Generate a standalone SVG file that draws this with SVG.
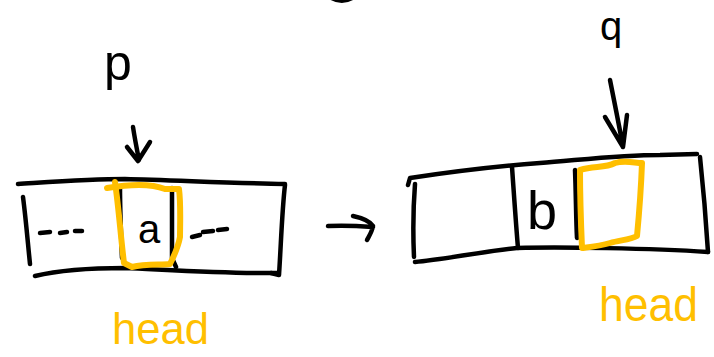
<svg xmlns="http://www.w3.org/2000/svg" width="714" height="357" viewBox="0 0 714 357">
<style>
.ink{fill:none;stroke:#000;stroke-width:4.5;stroke-linecap:round;stroke-linejoin:round}
.hl{fill:none;stroke:#FFBF00;stroke-width:6;stroke-linecap:round;stroke-linejoin:round}
.t{font-family:"Liberation Sans","DejaVu Sans",sans-serif;fill:#000}
.y{font-family:"Liberation Sans","DejaVu Sans",sans-serif;fill:#FFBF00}
</style>
<rect width="714" height="357" fill="#fff"/>
<path class="ink" d="M330,-3 Q341,4 352,-2"/>
<g id="left-array">
  <path class="ink" d="M18,184 C50,182 90,179 125,179 C170,180 230,183 285,184"/>
  <path class="ink" d="M285,185 C282,210 281,245 279,275 L271,273"/>
  <path class="ink" d="M35,276 C60,270 95,268 125,268 C170,270 230,274 277,273"/>
  <path class="ink" d="M23,197 C26,220 28,245 30,264"/>
  <path class="ink" d="M120,186 C120,210 121,235 122,258"/>
  <path class="ink" d="M172,188 C172,212 172,238 172,258 L176,267"/>
  <path class="ink" d="M40,233 L50,232 M60,233 L67,232 M75,231 L82,231"/>
  <path class="ink" d="M192,237 L200,235 M203,232 L213,231 M218,230 L227,229"/>
  <text class="t" x="138" y="243" font-size="40">a</text>
  <path class="hl" d="M107,188 C125,185 150,183 165,189 L179,189 C181,205 180,225 180,237 C178,248 174,256 170,264 C160,265 145,264 132,267 L124,263 C121,240 119,210 115,182"/>
  <text class="y" x="112" y="344" font-size="44" textLength="97" lengthAdjust="spacingAndGlyphs">head</text>
</g>
<g id="right-array">
  <path class="ink" d="M408,185 L410,178 C450,172 500,166 540,163 C580,160 620,155 660,155 L697,154"/>
  <path class="ink" d="M700,157 C703,185 706,220 708,252"/>
  <path class="ink" d="M415,262 C440,260 480,252 517,248 C560,247 650,248 708,252"/>
  <path class="ink" d="M415,184 C413,210 413,235 414,257"/>
  <path class="ink" d="M512,167 C514,195 516,225 518,248"/>
  <path class="ink" d="M575,170 C576,195 576,220 577,238"/>
  <text class="t" x="527" y="229" font-size="54">b</text>
  <path class="hl" d="M580,170 C595,166 605,168 615,163 C625,160 635,163 642,163 C641,190 639,215 637,236 C630,240 620,240 610,243 C600,246 590,247 582,248 C581,225 580,195 580,170 Z"/>
  <text class="y" x="599" y="321" font-size="48" textLength="99" lengthAdjust="spacingAndGlyphs">head</text>
</g>
<g id="label-p">
  <text class="t" x="104" y="80" font-size="50">p</text>
</g>
<g id="label-q">
  <text class="t" x="600" y="40" font-size="40">q</text>
</g>
<g id="connectors">
  <path class="ink" d="M133,127 C135,140 137,150 139,160 M127,147 L138,161 L150,142"/>
  <path class="ink" d="M610,80 C615,105 620,130 623,147 M605,117 L623,147 L627,115"/>
  <path class="ink" d="M328,226 C345,225 360,226 373,227 M353,216 C362,218 370,221 373,226 C372,232 369,236 367,240"/>
</g>
</svg>
